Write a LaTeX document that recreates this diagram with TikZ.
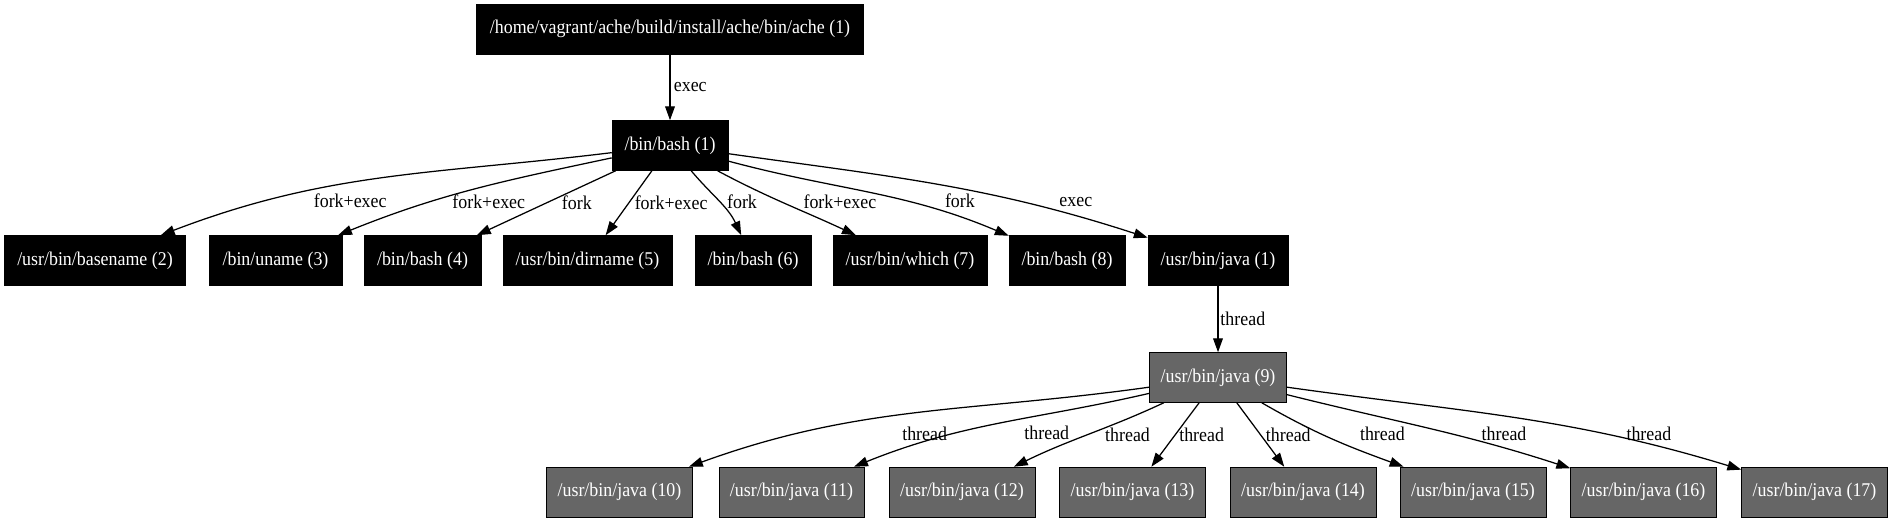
\documentclass[tikz,border=0pt]{standalone}
\usepackage{fontspec}
\setmainfont{Liberation Serif}[FakeStretch=0.92]
\usepackage{tikz}
\usetikzlibrary{shapes.geometric, arrows.meta}
\definecolor{threadgray}{HTML}{666666}
\tikzstyle{binary} = [rectangle, minimum width=54pt, minimum height=36pt, inner xsep=8pt, text centered, draw=black, text=white, fill=black]
\tikzstyle{worker} = [rectangle, minimum width=54pt, minimum height=36pt, inner xsep=8pt, text centered, draw=black, text=white, fill=threadgray]
\tikzstyle{edge} = [line width=0.9pt, ->, >={Triangle[length=10pt, width=7pt]}]

\begin{document}
\begin{tikzpicture}[x=0.72pt, y=0.72pt, every node/.style={font=\fontsize{14}{16}\selectfont}]
\useasboundingbox (0,0) rectangle (1894,-523);

\node (0) [binary, minimum width=279pt] at (670,-29) {/home/vagrant/ache/build/install/ache/bin/ache (1)};
\node (1) [binary, minimum width=83.5pt] at (670,-145.5) {/bin/bash (1)};
\node (2) [binary, minimum width=130.7pt] at (95,-260.5) {/usr/bin/basename (2)};
\node (3) [binary, minimum width=95.8pt] at (275.5,-260.5) {/bin/uname (3)};
\node (4) [binary, minimum width=84.2pt] at (422.5,-260.5) {/bin/bash (4)};
\node (5) [binary, minimum width=121.7pt] at (587.5,-260.5) {/usr/bin/dirname (5)};
\node (6) [binary, minimum width=83.5pt] at (753,-260.5) {/bin/bash (6)};
\node (7) [binary, minimum width=110.9pt] at (910,-260.5) {/usr/bin/which (7)};
\node (8) [binary, minimum width=83.5pt] at (1067,-260.5) {/bin/bash (8)};
\node (9) [binary, minimum width=100.8pt] at (1218,-260.5) {/usr/bin/java (1)};
\node (10) [worker] at (1218,-377.5) {/usr/bin/java (9)};
\node (11) [worker] at (619.5,-492) {/usr/bin/java (10)};
\node (12) [worker] at (791.5,-492) {/usr/bin/java (11)};
\node (13) [worker] at (962,-492) {/usr/bin/java (12)};
\node (14) [worker] at (1132.5,-492) {/usr/bin/java (13)};
\node (15) [worker] at (1303,-492) {/usr/bin/java (14)};
\node (16) [worker] at (1473,-492) {/usr/bin/java (15)};
\node (17) [worker] at (1643.5,-492) {/usr/bin/java (16)};
\node (18) [worker] at (1814.5,-492) {/usr/bin/java (17)};

\draw [edge] (0) -- node[anchor=west, xshift=-1pt]{exec} (1);
\draw [edge] (1) to[out=187, in=21] node[pos=0.65, xshift=22pt, yshift=-9pt]{fork+exec} (2);
\draw [edge] (1) to[out=192, in=22] node[xshift=11.5pt, yshift=-8.6pt]{fork+exec} (3);
\draw [edge] (1) -- node[xshift=22pt]{fork} (4);
\draw [edge] (1) -- node[xshift=30.5pt]{fork+exec} (5);
\draw [edge] (1) to[out=-50, in=115] node[xshift=16.7pt, yshift=-0.5pt]{fork} (6);
\draw [edge] (1) to[out=-28, in=155] node[xshift=38.7pt, yshift=1.5pt]{fork+exec} (7);
\draw [edge] (1) to[out=-15, in=157] node[pos=0.75, xshift=17pt, yshift=6pt]{fork} (8);
\draw [edge] (1) to[out=-8, in=162] node[pos=0.75, xshift=27pt, yshift=3pt]{exec} (9);

\draw [edge] (9) -- node[anchor=west, xshift=-2pt]{thread} (10);
\draw [edge] (10) to[out=188, in=20] node[xshift=6.5pt, yshift=-14.8pt]{thread} (11);
\draw [edge] (10) to[out=193, in=22] node[xshift=34pt, yshift=-7pt]{thread} (12);
\draw [edge] (10) to[out=205, in=26] node[xshift=28pt]{thread} (13);
\draw [edge] (10) -- node[xshift=19pt]{thread} (14);
\draw [edge] (10) -- node[xshift=20pt]{thread} (15);
\draw [edge] (10) to[out=-30, in=160] node[xshift=37pt, yshift=3pt]{thread} (16);
\draw [edge] (10) to[out=-14, in=162] node[pos=0.65, xshift=25.5pt, yshift=3pt]{thread} (17);
\draw [edge] (10) to[out=-8, in=163] node[pos=0.75, xshift=19pt, yshift=3pt]{thread} (18);

\end{tikzpicture}
\end{document}
